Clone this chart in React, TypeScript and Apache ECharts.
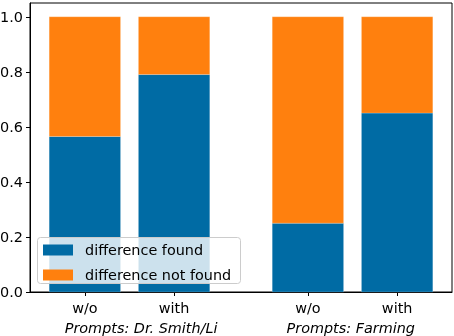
import React, { useEffect, useRef } from "react";
import * as echarts from "echarts";

const categories = ["w/o", "with", "w/o", "with"];
const positions = [0, 1, 2.5, 3.5];
const groupLabels = ["Prompts: Dr. Smith/Li", "Prompts: Farming"];
const groupPositions = [0.63, 2.98];
const found = [0.565, 0.79, 0.25, 0.65];
const notFound = [0.435, 0.21, 0.75, 0.35];
const yTicks = [0, 0.2, 0.4, 0.6, 0.8, 1.0];
const seriesNames = ["difference found", "difference not found"];
const colors = ["#006BA4", "#FF800E"];
const FONT = "DejaVu Sans";
const BAR_W = 0.8;

export default function App() {
  const ref = useRef<HTMLDivElement>(null);
  useEffect(() => {
    if (!ref.current) return;
    const chart = echarts.init(ref.current, undefined, { renderer: "svg" });
    const renderBar = (params: any, api: any) => {
      const x = api.value(0);
      const y0 = api.value(1);
      const y1 = api.value(2);
      const p0 = api.coord([x - BAR_W / 2, y1]);
      const p1 = api.coord([x + BAR_W / 2, y0]);
      return {
        type: "rect",
        shape: { x: p0[0], y: p0[1], width: p1[0] - p0[0], height: p1[1] - p0[1] },
        style: { fill: api.visual("color"), stroke: "rgba(255,255,255,0.35)", lineWidth: 0.6 },
      };
    };
    const foundData = positions.map((p, i) => [p, 0, found[i]]);
    const notFoundData = positions.map((p, i) => [p, found[i], found[i] + notFound[i]]);
    chart.setOption({
      animation: false,
      color: colors,
      grid: {
        left: 30, right: 2, top: 3, bottom: 44,
        outerBoundsMode: "none", containLabel: false,
        show: true, borderColor: "#000", borderWidth: 1, backgroundColor: "transparent",
      },
      graphic: [
        {
          type: "rect",
          z: 50,
          shape: { x: 37.5, y: 237.5, width: 203, height: 46, r: 3 },
          style: { fill: "rgba(255,255,255,0.8)", stroke: "#cccccc", lineWidth: 1 },
        },
      ],
      xAxis: [
        {
          type: "value",
          min: -0.615,
          max: 4.115,
          splitLine: { show: false },
          axisLine: { show: true, onZero: false, lineStyle: { color: "#000", width: 1 } },
          axisTick: { show: true, customValues: positions, length: 4, lineStyle: { color: "#000" } },
          axisLabel: {
            customValues: positions,
            formatter: (v: number) => categories[positions.indexOf(v)] ?? "",
            color: "#000",
            fontFamily: FONT,
            fontSize: 14.4,
            margin: 9,
          },
        },
        {
          type: "value",
          position: "bottom",
          min: -0.615,
          max: 4.115,
          splitLine: { show: false },
          axisLine: { show: false, onZero: false },
          axisTick: { show: false },
          axisLabel: {
            customValues: groupPositions,
            formatter: (v: number) => groupLabels[groupPositions.indexOf(v)] ?? "",
            color: "#000",
            fontFamily: FONT,
            fontStyle: "italic",
            fontSize: 14.4,
            margin: 29,
          },
        },
      ],
      yAxis: {
        type: "value",
        min: 0,
        max: 1.05,
        interval: 0.2,
        splitLine: { show: false },
        axisLine: { show: true, onZero: false, lineStyle: { color: "#000", width: 1 } },
        axisTick: { show: true, customValues: yTicks, length: 4, lineStyle: { color: "#000" } },
        axisLabel: {
          customValues: yTicks,
          formatter: (v: number) => v.toFixed(1),
          color: "#000",
          fontFamily: FONT,
          fontSize: 14.4,
          margin: 7,
        },
      },
      legend: {
        orient: "vertical",
        left: 37,
        top: 237,
        z: 60,
        data: seriesNames,
        itemWidth: 30,
        itemHeight: 11,
        itemGap: 11,
        icon: "rect",
        padding: [6, 8, 6, 6],
        backgroundColor: "transparent",
        borderWidth: 0,
        textStyle: {
          color: "#000", fontFamily: FONT, fontSize: 14.4,
          padding: [0, 0, 0, 7],
        },
      },
      series: [
        { type: "custom", name: seriesNames[0], xAxisIndex: 0, renderItem: renderBar, data: foundData, encode: { x: 0, y: [1, 2] }, z: 1 },
        { type: "custom", name: seriesNames[1], xAxisIndex: 0, renderItem: renderBar, data: notFoundData, encode: { x: 0, y: [1, 2] }, z: 1 },
      ],
    });
    return () => chart.dispose();
  }, []);
  return <div ref={ref} style={{ position: "fixed", left: 0, top: 0, width: 454, height: 336 }} />;
}
